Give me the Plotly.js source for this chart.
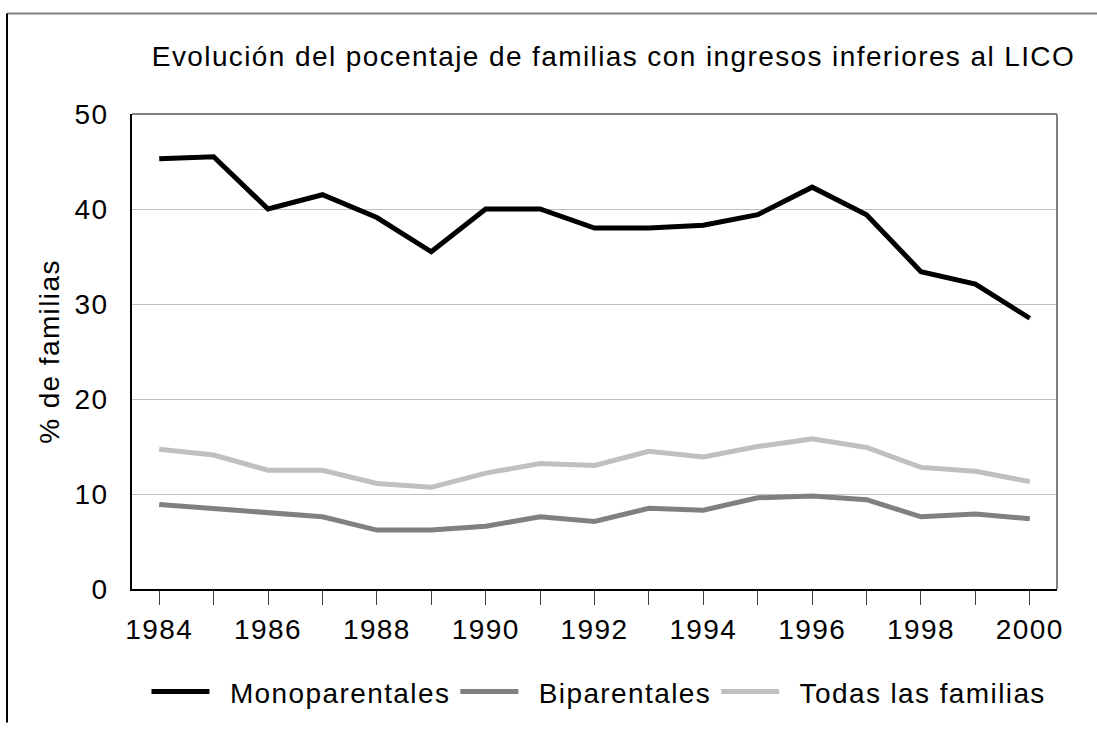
<!DOCTYPE html>
<html>
<head>
<meta charset="utf-8">
<script src="https://cdn.plot.ly/plotly-3.0.1.min.js"></script>
<style>html,body{margin:0;padding:0;background:#fff;}#chart{width:1097px;height:729px;} svg text{letter-spacing:1.4px;}</style>
</head>
<body>
<div id="chart"></div>
<script>
const years = [1984,1985,1986,1987,1988,1989,1990,1991,1992,1993,1994,1995,1996,1997,1998,1999,2000];
const tickLabels = ["1984","","1986","","1988","","1990","","1992","","1994","","1996","","1998","","2000"];
const monoparentales = [45.3,45.5,40.0,41.5,39.1,35.5,40.0,40.0,38.0,38.0,38.3,39.4,42.3,39.4,33.4,32.1,28.5];
const biparentales = [8.9,8.5,8.1,7.6,6.2,6.2,6.6,7.6,7.1,8.5,8.3,9.6,9.8,9.4,7.6,7.9,7.4];
const todas = [14.7,14.1,12.5,12.5,11.1,10.7,12.2,13.2,13.0,14.5,13.9,15.0,15.8,14.9,12.8,12.4,11.3];
const seriesNames = ["Monoparentales","Biparentales","Todas las familias"];
const titleText = "Evolución del pocentaje de familias con ingresos inferiores al LICO";
const yTitle = "% de familias";

const FONT = "Liberation Sans, Arial, sans-serif";
const colors = ["#000000","#808080","#c0c0c0"];
const data = [monoparentales, biparentales, todas].map((ys,i)=>({
  type:"scatter", mode:"lines", x:years, y:ys, name:"\u2002"+seriesNames[i],
  line:{color:colors[i], width:5}
}));

const L=132, R=1057, T=114, B=594, W=1097, H=729;
const px = v => (v-L)/(R-L);
const py = v => (B-v)/(B-T);

const layout = {
  width:W, height:H,
  margin:{l:L, r:W-R, t:T, b:H-B},
  paper_bgcolor:"#ffffff", plot_bgcolor:"#ffffff",
  font:{family:FONT, size:28, color:"#000"},
  title:{text:titleText, font:{family:FONT, size:28, color:"#000"}, x:613.5/W, xanchor:"center", xref:"container", y:1-56/H, yanchor:"middle", yref:"container"},
  showlegend:true,
  legend:{orientation:"h", x:px(599), xanchor:"center", xref:"paper", y:py(698), yanchor:"middle", yref:"paper", font:{family:FONT,size:28,color:"#000"}, bgcolor:"rgba(0,0,0,0)", itemwidth:58, tracegroupgap:0},
  xaxis:{range:[1983.5,2000.5], tickmode:"array", tickvals:years, ticktext:tickLabels, ticks:"outside", ticklen:14, tickwidth:1, tickcolor:"#404040",
    showgrid:false, zeroline:false, showline:true, linecolor:"#000", linewidth:2, tickfont:{family:FONT,size:28,color:"#000"}, fixedrange:true},
  yaxis:{range:[0,50], tickmode:"array", tickvals:[0,10,20,30,40,50], ticks:"", showgrid:true, gridcolor:"#c0c0c0", gridwidth:1, zeroline:false,
    showline:true, linecolor:"#000", linewidth:2, tickfont:{family:FONT,size:28,color:"#000"}, ticklabelstandoff:16,
    title:{text:yTitle, font:{family:FONT,size:28,color:"#000"}, standoff:7}, fixedrange:true},
  shapes:[
    {type:"line", xref:"paper", yref:"paper", x0:0, x1:1, y0:1, y1:1, line:{color:"#808080", width:2}},
    {type:"line", xref:"paper", yref:"paper", x0:1, x1:1, y0:0, y1:1, line:{color:"#808080", width:2}},
    {type:"line", xref:"paper", yref:"paper", x0:px(7), x1:px(1097), y0:py(12.5), y1:py(12.5), line:{color:"#808080", width:2}},
    {type:"line", xref:"paper", yref:"paper", x0:px(7), x1:px(7), y0:py(12.5), y1:py(729), line:{color:"#000000", width:2}}
  ]
};
Plotly.newPlot("chart", data, layout, {displayModeBar:false, staticPlot:true});
</script>
</body>
</html>
